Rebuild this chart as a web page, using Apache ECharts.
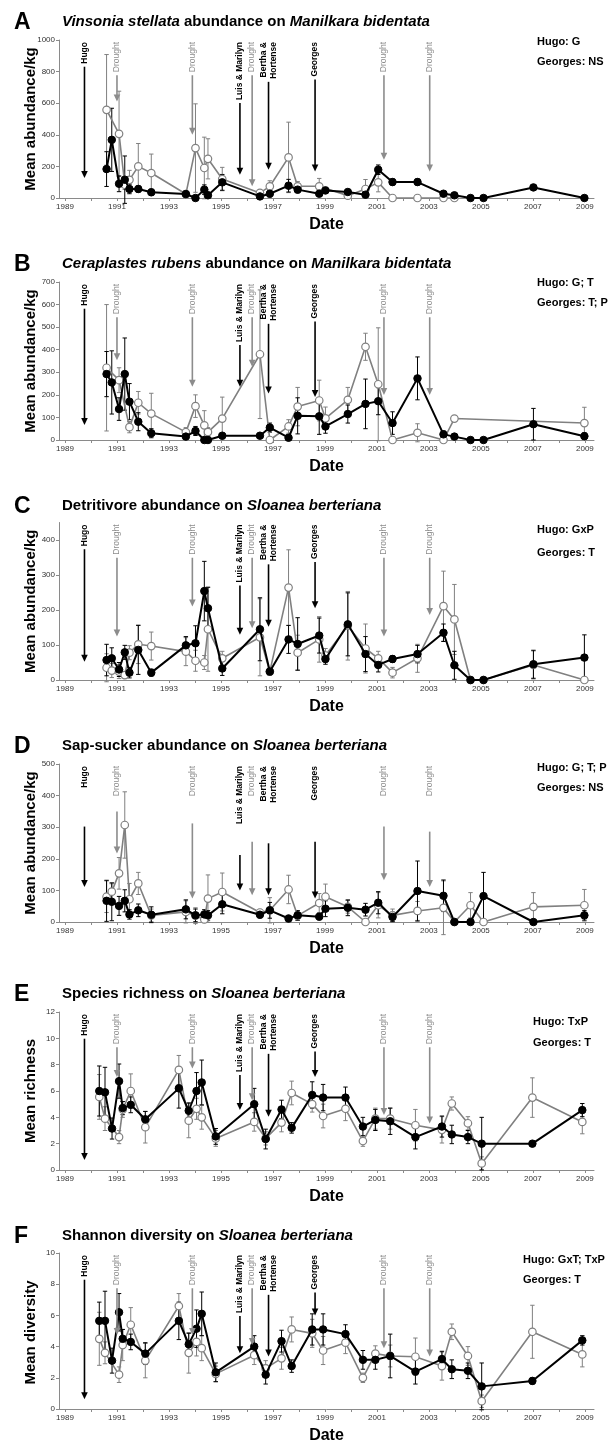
<!DOCTYPE html>
<html><head><meta charset="utf-8">
<script src="https://cdn.jsdelivr.net/npm/echarts@6/dist/echarts.min.js"></script>
<style>html,body{margin:0;padding:0;background:#fff}#c{width:612px;height:1445px}</style>
</head><body><div id="c"></div>
<script>
// ---------------- DATA ----------------
const datesAD = [1990.6, 1990.8, 1991.08, 1991.3, 1991.48, 1991.82, 1992.32, 1993.65, 1994.02, 1994.36, 1994.5, 1995.05, 1996.5, 1996.88, 1997.6, 1997.95, 1998.78, 1999.02, 1999.88, 2000.56, 2001.05, 2001.6, 2002.56, 2003.56, 2003.98, 2004.6, 2005.1, 2007.02, 2008.98];
const datesEF = [1990.32, 1990.54, 1990.81, 1991.08, 1991.22, 1991.53, 1992.09, 1993.38, 1993.76, 1994.06, 1994.26, 1994.8, 1996.28, 1996.72, 1997.33, 1997.72, 1998.51, 1998.93, 1999.79, 2000.46, 2000.94, 2001.51, 2002.48, 2003.5, 2003.88, 2004.5, 2005.03, 2006.98, 2008.9];

// A: Vinsonia stellata on Manilkara
const vinsoniaOpen = [558, null, 406, 84, 115, 200, 158, 25, 316, 190, 248, 120, 32, 74, 257, 74, 74, null, 15, 57, 99, 0, 0, 0, 0, null, null, null, null];
const vinsoniaOpenErr = [350, null, 270, 30, 60, 145, 120, 10, 280, 195, 127, 74, 15, 35, 223, 30, 50, null, 10, 60, 60, 0, 0, 0, 0, null, null, null, null];
const vinsoniaFilled = [183, 368, 90, 116, 57, 57, 36, 25, 0, 53, 17, 99, 10, 27, 78, 53, 27, 48, 38, 21, 179, 101, 101, 27, 17, 0, 0, 67, 0];
const vinsoniaFilledErr = [110, 200, 50, 150, 30, 20, 20, 10, 0, 30, 20, 50, 10, 20, 40, 20, 15, 20, 15, 15, 30, 20, 20, 15, 15, 0, 0, 15, 0];
// B: Ceraplastes rubens on Manilkara
const ceraplastesOpen = [320, null, 265, null, 57, 165, 117, 35, 150, 65, 35, 95, 380, 0, 60, 148, 175, 96, 178, 413, 247, 0, 32, 0, 95, null, null, null, 75];
const ceraplastesOpenErr = [280, null, 55, null, 25, 50, 90, 20, 50, 65, 20, 95, 285, 0, 30, 85, 90, 50, 55, 60, 250, 0, 40, 0, 0, null, null, null, 70];
const ceraplastesFilled = [292, 255, 137, 292, 170, 81, 30, 15, 40, 0, 0, 19, 19, 55, 10, 107, 105, 60, 115, 160, 172, 75, 273, 25, 15, 0, 0, 70, 17];
const ceraplastesFilledErr = [100, 140, 50, 160, 80, 40, 20, 10, 20, 0, 0, 10, 10, 20, 10, 80, 80, 30, 40, 110, 60, 50, 95, 15, 10, 0, 0, 70, 15];
// C: Detritivores on Sloanea
const detritivoreOpen = [35, 27, 24, 14, 78, 102, 97, 81, 55, 50, 145, 62, 122, 24, 264, 78, 116, 70, 155, 90, 62, 21, 62, 211, 173, 0, 0, 43, 0];
const detritivoreOpenErr = [40, 20, 20, 10, 20, 55, 40, 40, 30, 20, 120, 20, 110, 10, 108, 50, 65, 20, 98, 70, 20, 15, 40, 100, 100, 0, 0, 40, 0];
const detritivoreFilled = [57, 62, 30, 79, 21, 86, 21, 99, 105, 254, 205, 33, 145, 24, 116, 103, 127, 60, 159, 74, 43, 60, 74, 135, 42, 0, 0, 45, 64];
const detritivoreFilledErr = [45, 30, 20, 20, 15, 70, 10, 25, 50, 85, 60, 20, 90, 10, 40, 75, 50, 15, 90, 50, 20, 10, 25, 25, 40, 0, 0, 40, 65];
// D: Sap-suckers on Sloanea
const sapsuckerOpen = [80, 96, 154, 307, 72, 122, 21, 32, 20, 8, 74, 95, 30, 37, 103, 20, 60, 80, 48, 0, 53, 21, 35, 45, 0, 53, 0, 48, 53];
const sapsuckerOpenErr = [50, 25, 50, 105, 50, 35, 20, 35, 25, 10, 75, 60, 10, 40, 45, 15, 30, 40, 20, 0, 40, 20, 30, 85, 0, 40, 0, 45, 50];
const sapsuckerFilled = [67, 64, 51, 67, 24, 37, 23, 40, 21, 24, 21, 56, 23, 37, 11, 21, 17, 42, 45, 39, 61, 16, 98, 83, 0, 0, 82, 0, 21];
const sapsuckerFilledErr = [65, 60, 30, 35, 15, 20, 25, 30, 20, 15, 15, 30, 10, 25, 10, 15, 10, 25, 25, 20, 35, 15, 95, 50, 0, 0, 75, 0, 15];
// E: Species richness on Sloanea
const richnessOpen = [5.55, 3.9, null, 2.5, 4.6, 6.0, 3.25, 7.6, 3.75, 4.65, 4.0, 2.4, 3.65, 2.4, 3.6, 5.85, 5.0, 4.1, 4.65, 2.2, 3.9, 3.9, 3.4, 3.05, 5.05, 3.55, 0.5, 5.5, 3.65];
const richnessOpenErr = [1.7, 0.9, null, 0.5, 0.6, 1.3, 1.2, 1.1, 1.3, 0.8, 0.9, 0.6, 0.7, 0.5, 0.7, 0.9, 0.6, 0.9, 0.9, 0.4, 0.8, 0.8, 1.2, 1.0, 0.5, 0.5, 0.5, 1.5, 0.9];
const richnessFilled = [6.0, 5.9, 3.15, 6.75, 4.7, 4.95, 3.85, 6.2, 4.5, 6.0, 6.65, 2.55, 5.0, 2.35, 4.6, 3.2, 5.7, 5.5, 5.5, 3.3, 3.8, 3.7, 2.5, 3.3, 2.7, 2.5, 2.0, 2.0, 4.55];
const richnessFilledErr = [1.9, 1.9, 0.8, 1.3, 0.5, 0.6, 0.6, 1.5, 0.6, 1.4, 1.7, 0.6, 1.2, 0.75, 0.7, 0.4, 1.0, 1.0, 0.8, 0.7, 0.8, 1.0, 0.9, 0.8, 0.7, 0.5, 2.0, 0.2, 0.5];
// F: Shannon diversity on Sloanea
const diversityOpen = [4.5, 3.6, null, 2.2, 4.1, 5.4, 3.1, 6.6, 3.6, 4.3, 3.9, 2.25, 3.45, 2.6, 3.25, 5.1, 4.85, 3.75, 4.25, 2.0, 3.55, 3.4, 3.35, 2.75, 4.95, 3.4, 0.5, 4.95, 3.5];
const diversityOpenErr = [1.7, 0.7, null, 0.5, 1.0, 1.1, 1.1, 0.8, 1.3, 0.9, 0.8, 0.5, 0.6, 0.5, 0.7, 0.8, 0.9, 0.9, 0.7, 0.3, 0.5, 0.7, 1.2, 0.9, 0.5, 0.6, 0.4, 1.7, 0.8];
const diversityFilled = [5.65, 5.65, 3.1, 6.2, 4.5, 4.3, 3.55, 5.65, 4.15, 5.15, 6.1, 2.35, 4.0, 2.2, 4.35, 2.75, 5.1, 5.1, 4.8, 3.15, 3.15, 3.4, 2.4, 3.2, 2.55, 2.45, 1.45, 1.8, 4.4];
const diversityFilledErr = [1.2, 1.9, 0.8, 1.2, 0.6, 0.5, 0.7, 1.2, 0.7, 1.2, 1.4, 0.6, 0.7, 0.6, 0.7, 0.4, 1.0, 1.0, 0.6, 0.6, 0.6, 1.4, 0.8, 0.5, 0.6, 0.5, 1.5, 0.2, 0.3];

// Disturbance events
const eventLabels = ['Hugo', 'Drought', 'Drought', 'Luis & Marilyn', 'Drought', 'Bertha &\nHortense', 'Georges', 'Drought', 'Drought'];
const eventDates = [1989.75, 1991.0, 1993.9, 1995.73, 1996.2, 1996.83, 1998.62, 2001.27, 2003.03];
const eventIsDrought = [false, true, true, false, true, false, false, true, true];
const arrowTipsA = [126, 610, 400, 147, 74, 179, 168, 242, 168];
const arrowTipsB = [66, 353, 236, 236, 324, 206, 191, 199, 199];
const arrowTipsC = [52, 124, 210, 129, 148, 152, 205, 124, 186];
const arrowTipsD = [111, 217, 74, 100, 85, 85, 74, 132, 111];
const arrowTopsD = [302, 350, 312, 212, 254, 249, 254, 302, 286];
const arrowTipsE = [0.76, 7.07, 7.7, 4.55, 5.3, 4.04, 7.07, 4.17, 3.54];
const arrowTipsF = [0.63, 4.74, 4.74, 3.58, 4.1, 3.37, 6.0, 3.9, 3.37];

// Axis ticks
const xTickLabels = [1989, 1991, 1993, 1995, 1997, 1999, 2001, 2003, 2005, 2007, 2009];
const xTickYears = [1989, 1990, 1991, 1992, 1993, 1994, 1995, 1996, 1997, 1998, 1999, 2000, 2001, 2002, 2003, 2004, 2005, 2006, 2007, 2008, 2009];
const yTicksA = [0, 200, 400, 600, 800, 1000];
const yTicksB = [0, 100, 200, 300, 400, 500, 600, 700];
const yTicksC = [0, 100, 200, 300, 400];
const yTicksD = [0, 100, 200, 300, 400, 500];
const yTicksE = [0, 2, 4, 6, 8, 10, 12];
const yTicksF = [0, 2, 4, 6, 8, 10];

// Statistical results text
const statsA = ['Hugo: G', 'Georges: NS'];
const statsB = ['Hugo: G; T', 'Georges: T; P'];
const statsC = ['Hugo: GxP', 'Georges: T'];
const statsD = ['Hugo: G; T; P', 'Georges: NS'];
const statsE = ['Hugo: TxP', 'Georges: T'];
const statsF = ['Hugo: GxT; TxP', 'Georges: T'];

// ---------------- LAYOUT ----------------
const FONT = '"Liberation Sans", Arial, Helvetica, sans-serif';
const GRAY = '#808080';
const AXIS = '#8a8a8a';
const panels = [
  {letter: 'A', title: '{i|Vinsonia stellata} abundance on {i|Manilkara bidentata}', titleTop: 9, gridTop: 40, gridH: 158, yMax: 1000, yTicks: yTicksA, yName: 'Mean abundance/kg',
   dates: datesAD, open: vinsoniaOpen, openErr: vinsoniaOpenErr, filled: vinsoniaFilled, filledErr: vinsoniaFilledErr, tips: arrowTipsA, tops: null, stats: statsA, statsX: 537, statsY: [42, 62]},
  {letter: 'B', title: '{i|Ceraplastes rubens} abundance on {i|Manilkara bidentata}', titleTop: 251, gridTop: 282, gridH: 158, yMax: 700, yTicks: yTicksB, yName: 'Mean abundance/kg',
   dates: datesAD, open: ceraplastesOpen, openErr: ceraplastesOpenErr, filled: ceraplastesFilled, filledErr: ceraplastesFilledErr, tips: arrowTipsB, tops: null, stats: statsB, statsX: 537, statsY: [283, 303]},
  {letter: 'C', title: 'Detritivore abundance on {i|Sloanea berteriana}', titleTop: 493, gridTop: 522.5, gridH: 157.5, yMax: 450, yTicks: yTicksC, yName: 'Mean abundance/kg',
   dates: datesAD, open: detritivoreOpen, openErr: detritivoreOpenErr, filled: detritivoreFilled, filledErr: detritivoreFilledErr, tips: arrowTipsC, tops: null, stats: statsC, statsX: 537, statsY: [530, 553]},
  {letter: 'D', title: 'Sap-sucker abundance on {i|Sloanea berteriana}', titleTop: 733, gridTop: 764, gridH: 158, yMax: 500, yTicks: yTicksD, yName: 'Mean abundance/kg',
   dates: datesAD, open: sapsuckerOpen, openErr: sapsuckerOpenErr, filled: sapsuckerFilled, filledErr: sapsuckerFilledErr, tips: arrowTipsD, tops: arrowTopsD, stats: statsD, statsX: 537, statsY: [768, 788]},
  {letter: 'E', title: 'Species richness on {i|Sloanea berteriana}', titleTop: 981, gridTop: 1012, gridH: 158, yMax: 12, yTicks: yTicksE, yName: 'Mean richness',
   dates: datesEF, open: richnessOpen, openErr: richnessOpenErr, filled: richnessFilled, filledErr: richnessFilledErr, tips: arrowTipsE, tops: null, stats: statsE, statsX: 533, statsY: [1022, 1043]},
  {letter: 'F', title: 'Shannon diversity on {i|Sloanea berteriana}', titleTop: 1223, gridTop: 1253, gridH: 159, yMax: 10, yTicks: yTicksF, yName: 'Mean diversity',
   dates: datesEF, open: diversityOpen, openErr: diversityOpenErr, filled: diversityFilled, filledErr: diversityFilledErr, tips: arrowTipsF, tops: null, stats: statsF, statsX: 523, statsY: [1260, 1280]}
];

const mctx = document.createElement('canvas').getContext('2d');
function textLen(text, font) {
  mctx.font = font;
  return Math.max.apply(null, text.split('\n').map(s => mctx.measureText(s).width));
}

function pairs(dates, vals) {
  const out = [];
  dates.forEach((d, i) => { if (vals[i] !== null && vals[i] !== undefined) out.push([d, vals[i]]); });
  return out;
}
function triples(dates, vals, errs) {
  const out = [];
  dates.forEach((d, i) => { if (vals[i] !== null && errs[i] !== null && errs[i] > 0) out.push([d, vals[i], errs[i]]); });
  return out;
}
function errRender(color) {
  return function (params, api) {
    const x = api.value(0), v = api.value(1), e = api.value(2);
    const pt = api.coord([x, v + e]);
    const pb = api.coord([x, v - e]);
    const c = 2.2;
    const st = {stroke: color, lineWidth: 1};
    return {type: 'group', children: [
      {type: 'line', shape: {x1: pt[0], y1: pt[1], x2: pb[0], y2: pb[1]}, style: st},
      {type: 'line', shape: {x1: pt[0] - c, y1: pt[1], x2: pt[0] + c, y2: pt[1]}, style: st},
      {type: 'line', shape: {x1: pb[0] - c, y1: pb[1], x2: pb[0] + c, y2: pb[1]}, style: st}
    ]};
  };
}
function eventRender(p) {
  return function (params, api) {
    const i = api.value(2);
    const cs = params.coordSys;
    const d = api.value(0);
    const tip = api.coord([d, api.value(1)]);
    const x = tip[0];
    const drought = eventIsDrought[i];
    const color = drought ? '#8c8c8c' : '#000';
    const weight = drought ? 'normal' : 'bold';
    const fs = 8.5;
    const label = eventLabels[i];
    const len = textLen(label, weight + ' ' + fs + 'px ' + FONT);
    let y0 = cs.y + 2 + len + 3;
    if (p.tops) y0 = api.coord([d, p.tops[i]])[1];
    const headH = 7, headW = 3.3;
    return {type: 'group', children: [
      {type: 'text', x: x, y: cs.y + 2, rotation: Math.PI / 2,
       style: {text: label, fontSize: fs, fontFamily: FONT, fontWeight: weight, fill: color, align: 'right', verticalAlign: 'middle', lineHeight: 9.5}},
      {type: 'line', shape: {x1: x, y1: y0, x2: x, y2: tip[1] - headH + 1}, style: {stroke: color, lineWidth: 1.6}},
      {type: 'polygon', shape: {points: [[x - headW, tip[1] - headH], [x + headW, tip[1] - headH], [x, tip[1]]]}, style: {fill: color}}
    ]};
  };
}

const option = {animation: false, backgroundColor: '#fff', title: [], grid: [], xAxis: [], yAxis: [], series: [], graphic: []};

panels.forEach((p, k) => {
  option.grid.push({left: 59, width: 535, top: p.gridTop, height: p.gridH});
  option.title.push({text: p.letter, left: 9, top: p.titleTop - 3, textStyle: {fontFamily: FONT, fontSize: 23, fontWeight: 'bold', color: '#000'}});
  option.title.push({text: p.title, left: 57, top: p.titleTop, textStyle: {fontFamily: FONT, fontSize: 15, fontWeight: 'bold', color: '#000',
    rich: {i: {fontFamily: FONT, fontSize: 15, fontWeight: 'bold', fontStyle: 'italic', color: '#000'}}}});
  option.xAxis.push({gridIndex: k, type: 'value', min: 1988.77, max: 2009.35,
    axisLine: {show: true, onZero: false, lineStyle: {color: AXIS, width: 1}},
    axisTick: {show: true, length: 3, customValues: xTickYears, lineStyle: {color: AXIS}},
    axisLabel: {customValues: xTickLabels, fontSize: 8, color: '#333', fontFamily: FONT, margin: 5, formatter: v => String(v)},
    splitLine: {show: false},
    name: 'Date', nameLocation: 'middle', nameGap: 19,
    nameTextStyle: {fontFamily: FONT, fontSize: 16, fontWeight: 'bold', color: '#000', verticalAlign: 'top'}});
  option.yAxis.push({gridIndex: k, type: 'value', min: 0, max: p.yMax,
    axisLine: {show: true, lineStyle: {color: AXIS, width: 1}},
    axisTick: {show: true, length: 3, customValues: p.yTicks, lineStyle: {color: AXIS}},
    axisLabel: {customValues: p.yTicks, fontSize: 8, color: '#333', fontFamily: FONT, margin: 4, formatter: v => String(v)},
    splitLine: {show: false}});
  option.graphic.push({type: 'text', x: 31, y: p.gridTop + p.gridH / 2, rotation: Math.PI / 2,
    style: {text: p.yName, fontFamily: FONT, fontSize: 15, fontWeight: 'bold', fill: '#000', align: 'center', verticalAlign: 'middle'}});

  option.series.push({type: 'custom', xAxisIndex: k, yAxisIndex: k, z: 2, silent: true, clip: false,
    renderItem: errRender(GRAY), data: triples(p.dates, p.open, p.openErr)});
  option.series.push({type: 'custom', xAxisIndex: k, yAxisIndex: k, z: 2, silent: true, clip: false,
    renderItem: errRender('#000'), data: triples(p.dates, p.filled, p.filledErr)});
  option.series.push({type: 'line', xAxisIndex: k, yAxisIndex: k, z: 3, data: pairs(p.dates, p.open),
    symbol: 'circle', symbolSize: 7.5, showAllSymbol: true,
    lineStyle: {color: GRAY, width: 1.6}, itemStyle: {color: '#fff', borderColor: GRAY, borderWidth: 1.2}});
  option.series.push({type: 'line', xAxisIndex: k, yAxisIndex: k, z: 4, data: pairs(p.dates, p.filled),
    symbol: 'circle', symbolSize: 7.5, showAllSymbol: true,
    lineStyle: {color: '#000', width: 2}, itemStyle: {color: '#000', borderColor: '#000', borderWidth: 1}});
  option.series.push({type: 'custom', xAxisIndex: k, yAxisIndex: k, z: 5, silent: true, clip: false,
    renderItem: eventRender(p), data: eventDates.map((d, i) => [d, p.tips[i], i])});

  p.stats.forEach((s, j) => {
    option.graphic.push({type: 'text', left: p.statsX, top: p.statsY[j] - 6,
      style: {text: s, fontFamily: FONT, fontSize: 11, fontWeight: 'bold', fill: '#000'}});
  });
});

const chart = echarts.init(document.getElementById('c'), null, {renderer: 'canvas'});
chart.setOption(option);
</script>
</body></html>
